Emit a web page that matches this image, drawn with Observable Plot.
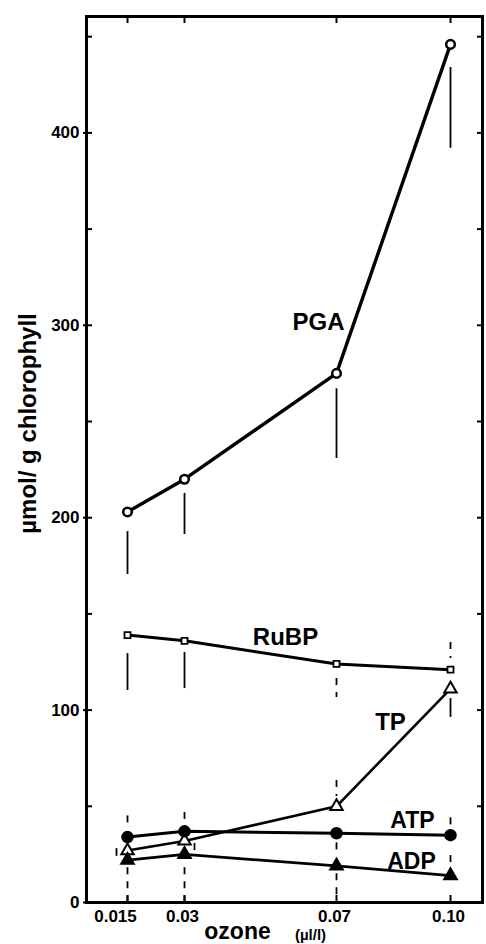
<!DOCTYPE html>
<html>
<head>
<meta charset="utf-8">
<script src="https://cdn.jsdelivr.net/npm/d3@7"></script>
<script src="https://cdn.jsdelivr.net/npm/@observablehq/plot@0.6"></script>
<style>
  html, body { margin: 0; padding: 0; background: #fff; }
  #chart svg { display: block; }
</style>
</head>
<body>
<div id="chart"></div>
<script>
// ---- data ----
const ozone = [0.015, 0.03, 0.07, 0.10];
const xTickLabels = ["0.015", "0.03", "0.07", "0.10"];
const yMajorTicks = [0, 100, 200, 300, 400];
const yMinorTicks = [0, 50, 100, 150, 200, 250, 300, 350, 400, 450];

const PGA  = [203, 220, 275, 446];
const RuBP = [139, 136, 124, 121];
const TP   = [27, 32, 50, 111];
const ATP  = [34, 37, 36, 35];
const ADP  = [22, 25, 19, 14];

// error bars: [ozone, from, to]
const solidErrors = [
  [0.015, 192.8, 170.5], [0.03, 212.6, 191.3], [0.07, 267, 230.8], [0.10, 434, 392],
  [0.015, 129.4, 110.2], [0.03, 129.9, 111.2],
  [0.10, 106, 96.2]
];
const dashedErrors = [
  [0.07, 116.4, 106.5], [0.10, 135.1, 126.8],
  [0.07, 63.4, 55.1],
  [0.015, 45, 39], [0.03, 46.8, 41.6], [0.07, 31, 25], [0.10, 44, 40],
  [0.015, 18, 0], [0.03, 18, 0], [0.07, 15, 0], [0.10, 24.4, 20.3]
];
// small TP bars drawn beside the crowded low points
const tpSideErrors = [[0.015, 28, 24], [0.03, 30.7, 27]];

const seriesNames = ["PGA", "RuBP", "TP", "ATP", "ADP"];
const seriesValues = {PGA, RuBP, TP, ATP, ADP};
const rows = seriesNames.flatMap(name =>
  ozone.map((x, i) => ({series: name, x, v: seriesValues[name][i], i})));
const of = name => rows.filter(d => d.series === name);

const font = "'Liberation Sans', Arial, Helvetica, sans-serif";

const chart = Plot.plot({
  width: 486,
  height: 944,
  marginLeft: 86,
  marginRight: 4,
  marginTop: 16,
  marginBottom: 42,
  style: {fontFamily: font, background: "#fff", color: "#000"},
  x: {type: "linear", domain: [0.00421, 0.10842]},
  y: {type: "linear", domain: [0, 460.5]},
  marks: [
    Plot.frame({stroke: "#000", strokeWidth: 3}),
    // left axis: inward minor ticks, outward major ticks with labels
    Plot.axisY({ticks: yMinorTicks, tickSize: -6, tickFormat: () => "", label: null, strokeWidth: 2}),
    Plot.axisY({ticks: yMajorTicks, tickSize: 3, tickPadding: 4, label: null, strokeWidth: 2,
      fontSize: 17, fontWeight: "bold", tickFormat: d => String(d)}),
    // right axis inward ticks
    Plot.axisY({anchor: "right", ticks: yMinorTicks.filter(d => d > 0), tickSize: -6,
      tickFormat: () => "", label: null, strokeWidth: 2}),
    // top and bottom inward ticks
    Plot.axisX({anchor: "top", ticks: ozone, tickSize: -6, tickFormat: () => "", label: null, strokeWidth: 2}),
    Plot.axisX({anchor: "bottom", ticks: ozone, tickSize: -7, tickFormat: () => "", label: null, strokeWidth: 2}),
    // x tick labels
    Plot.text([0], {x: i => ozone[i], y: () => 0, text: i => xTickLabels[i], dx: -12, dy: 14,
      fontSize: 17, fontWeight: "bold", fill: "#000", lineAnchor: "middle",
      style: "letter-spacing:1.2px"}),
    Plot.text([1, 2, 3], {x: i => ozone[i], y: () => 0, text: i => xTickLabels[i], dx: -2, dy: 14,
      fontSize: 17, fontWeight: "bold", fill: "#000", lineAnchor: "middle"}),
    // axis titles
    Plot.text(["ozone"], {frameAnchor: "bottom", text: d => d, dx: -47, dy: 29,
      fontSize: 23, fontWeight: "bold", fill: "#000", lineAnchor: "middle", textAnchor: "middle"}),
    Plot.text(["(µl/l)"], {frameAnchor: "bottom", text: d => d, dx: 26, dy: 33,
      fontSize: 15, fontWeight: "bold", fill: "#000", lineAnchor: "middle", textAnchor: "middle"}),
    Plot.text(["µmol/ g chlorophyll"], {frameAnchor: "left", text: d => d, rotate: -90,
      dx: -58, dy: -36, fontSize: 24, fontWeight: "bold", fill: "#000",
      lineAnchor: "middle", textAnchor: "middle"}),
    // error bars
    Plot.ruleX(solidErrors, {x: d => d[0], y1: d => d[1], y2: d => d[2], stroke: "#000", strokeWidth: 1.8}),
    Plot.ruleX(dashedErrors, {x: d => d[0], y1: d => d[1], y2: d => d[2], stroke: "#000",
      strokeWidth: 1.8, strokeDasharray: "7,7"}),
    Plot.ruleX(tpSideErrors.slice(0, 1), {x: d => d[0], y1: d => d[1], y2: d => d[2], dx: -11,
      stroke: "#000", strokeWidth: 1.8}),
    Plot.ruleX(tpSideErrors.slice(1), {x: d => d[0], y1: d => d[1], y2: d => d[2], dx: 10,
      stroke: "#000", strokeWidth: 1.8}),
    // lines
    Plot.line(of("PGA"), {x: "x", y: "v", stroke: "#000", strokeWidth: 3.4}),
    Plot.line(of("RuBP"), {x: "x", y: "v", stroke: "#000", strokeWidth: 3}),
    Plot.line(of("TP"), {x: "x", y: "v", stroke: "#000", strokeWidth: 2.6}),
    Plot.line(of("ATP"), {x: "x", y: "v", stroke: "#000", strokeWidth: 3}),
    Plot.line(of("ADP"), {x: "x", y: "v", stroke: "#000", strokeWidth: 2.8}),
    // markers
    Plot.dot(of("PGA"), {x: "x", y: "v", r: 4.3, symbol: "circle", fill: "#fff", stroke: "#000", strokeWidth: 2.5}),
    Plot.dot(of("RuBP"), {x: "x", y: "v", r: 3.4, symbol: "square", fill: "#fff", stroke: "#000", strokeWidth: 1.8}),
    Plot.dot(of("TP"), {x: "x", y: "v", r: 4.6, symbol: "triangle", fill: "#fff", stroke: "#000", strokeWidth: 2}),
    Plot.dot(of("ATP"), {x: "x", y: "v", r: 5.5, symbol: "circle", fill: "#000", stroke: "#000"}),
    Plot.dot(of("ADP"), {x: "x", y: "v", r: 5, symbol: "triangle", fill: "#000", stroke: "#000"}),
    // series labels, placed relative to data points
    Plot.text(of("PGA").filter(d => d.i === 2), {x: "x", y: "v", text: () => "PGA", dx: -18, dy: -51,
      fontSize: 24, fontWeight: "bold", fill: "#000", lineAnchor: "middle"}),
    Plot.text(of("RuBP").filter(d => d.i === 2), {x: "x", y: "v", text: () => "RuBP", dx: -51, dy: -27,
      fontSize: 24, fontWeight: "bold", fill: "#000", lineAnchor: "middle"}),
    Plot.text(of("TP").filter(d => d.i === 3), {x: "x", y: "v", text: () => "TP", dx: -60, dy: 33,
      fontSize: 24, fontWeight: "bold", fill: "#000", lineAnchor: "middle"}),
    Plot.text(of("ATP").filter(d => d.i === 3), {x: "x", y: "v", text: () => "ATP", dx: -38, dy: -15,
      fontSize: 23, fontWeight: "bold", fill: "#000", lineAnchor: "middle"}),
    Plot.text(of("ADP").filter(d => d.i === 3), {x: "x", y: "v", text: () => "ADP", dx: -39, dy: -14,
      fontSize: 23, fontWeight: "bold", fill: "#000", lineAnchor: "middle"})
  ]
});
document.getElementById("chart").appendChild(chart);
</script>
</body>
</html>
